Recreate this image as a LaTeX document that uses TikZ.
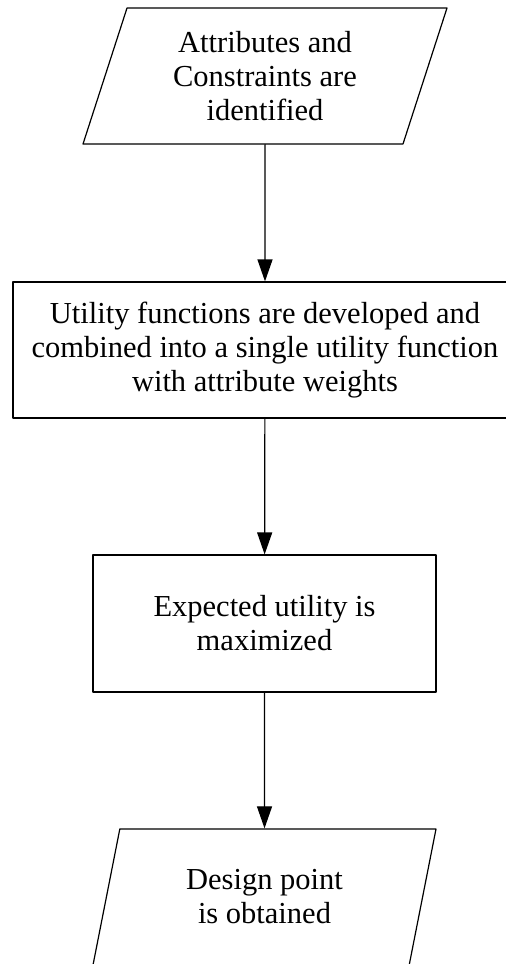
\documentclass[tikz,border=0pt]{standalone}
\usepackage{fontspec}
\setmainfont{Liberation Serif}
\usetikzlibrary{shapes.geometric,arrows.meta}
\begin{document}
\begin{tikzpicture}[x=1pt,y=-1pt,line cap=round,line join=round,
	font=\fontsize{30.5}{34}\selectfont,
	io/.style={draw,line width=1.2pt,trapezium,trapezium left angle=63.8,trapezium right angle=116.2,trapezium stretches body,minimum height=136pt,inner sep=0pt,align=center},
	proc/.style={draw,line width=1.2pt,rectangle,minimum height=136pt,inner sep=0pt,align=center},
	arr/.style={line width=1.2pt,-{Triangle[length=22pt,width=15pt]}}]
	\clip (0,0) rectangle (506,964);
	\node[io,minimum width=364pt] (attr) at (265,76) {Attributes and\\Constraints are\\identified};
	\node[proc,minimum width=504pt] (util) at (265,350) {Utility functions are developed and\\combined into a single utility function\\with attribute weights};
	\node[proc,minimum width=343pt,minimum height=137pt] (expect) at (264.5,623.5) {Expected utility is\\maximized};
	\node[io,minimum width=343pt] (design) at (264.5,897) {Design point\\is obtained};
	\draw[arr] (attr) -- (util);
	\draw[arr] (util) -- (expect);
	\draw[arr] (expect) -- (design);
\end{tikzpicture}
\end{document}
